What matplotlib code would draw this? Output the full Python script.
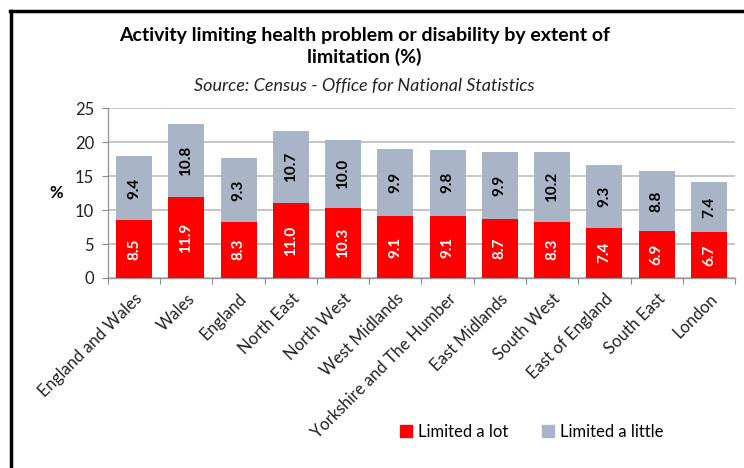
import numpy as np
import matplotlib
matplotlib.use("Agg")
import matplotlib.pyplot as plt
from matplotlib.lines import Line2D
from matplotlib.patches import Patch

REGIONS = ["England and Wales", "Wales", "England", "North East", "North West",
           "West Midlands", "Yorkshire and The Humber", "East Midlands",
           "South West", "East of England", "South East", "London"]
LIMITED_LOT = [8.5, 11.9, 8.3, 11.0, 10.3, 9.1, 9.1, 8.7, 8.3, 7.4, 6.9, 6.7]
LIMITED_LITTLE = [9.4, 10.8, 9.3, 10.7, 10.0, 9.9, 9.8, 9.9, 10.2, 9.3, 8.8, 7.4]
Y_TICKS = [0, 5, 10, 15, 20, 25]

RED = "#FF0000"
GREY = "#A9B4C6"
FONT = "Lato"

plt.rcParams["font.family"] = [FONT, "DejaVu Sans"]

fig = plt.figure(figsize=(7.44, 4.68), dpi=100)
ax = fig.add_axes([0.145, 0.406, 0.843, 0.363])

x = np.arange(len(REGIONS))
lot = np.array(LIMITED_LOT)
little = np.array(LIMITED_LITTLE)
w = 0.69
ax.bar(x, lot, w, color=RED, zorder=3)
ax.bar(x, little, w, bottom=lot, color=GREY, zorder=3)

for i in range(len(x)):
    ax.text(x[i], lot[i] / 2, f"{lot[i]:.1f}", rotation=90, ha="center",
            va="center", color="white", fontsize=11, fontweight="bold", zorder=4)
    ax.text(x[i], lot[i] + little[i] / 2, f"{little[i]:.1f}", rotation=90,
            ha="center", va="center", color="black", fontsize=11,
            fontweight="bold", zorder=4)

ax.set_xlim(-0.5, len(x) - 0.5)
ax.set_ylim(0, 25)
ax.set_yticks(Y_TICKS)
ax.tick_params(axis="y", labelsize=12, length=4, color="#888888", pad=6,
               labelcolor="#222222")
ax.yaxis.grid(True, color="#BBBBBB", linewidth=1.2, zorder=0)
ax.set_axisbelow(True)

# category ticks sit between bars, labels under each bar
ax.set_xticks(np.arange(len(x) + 1) - 0.5)
ax.set_xticklabels([])
ax.tick_params(axis="x", length=4, color="#888888")
ax.set_xticks(x, minor=True)
ax.set_xticklabels(REGIONS, minor=True, rotation=45, ha="right",
                   rotation_mode="anchor", fontsize=12, color="#222222")
ax.tick_params(axis="x", which="minor", length=0, pad=9)

for s in ["top", "right"]:
    ax.spines[s].set_visible(False)
for s in ["left", "bottom"]:
    ax.spines[s].set_color("#999999")
    ax.spines[s].set_linewidth(1)

fig.text(0.075, 0.588, "%", fontsize=12, fontweight="bold", ha="center", va="center")

fig.text(0.49, 0.925, "Activity limiting health problem or disability by extent of",
         ha="center", va="center", fontsize=14, fontweight="bold")
fig.text(0.49, 0.878, "limitation (%)", ha="center", va="center",
         fontsize=14, fontweight="bold")
fig.text(0.49, 0.817, "Source: Census - Office for National Statistics",
         ha="center", va="center", fontsize=13, style="italic", color="#222222")

handles = [Patch(color=RED, label="Limited a lot"),
           Patch(color=GREY, label="Limited a little")]
fig.legend(handles=handles, loc="center", bbox_to_anchor=(0.715, 0.077), ncol=2,
           frameon=False, fontsize=12, handlelength=0.7, handleheight=0.7,
           handletextpad=0.4, columnspacing=2.0)

# outer frame, left and top edges only
fig.add_artist(Line2D([0.015, 0.015], [0, 0.977], color="black", linewidth=2.5))
fig.add_artist(Line2D([0.014, 1.0], [0.977, 0.977], color="black", linewidth=2.5))

fig.savefig("out.png", dpi=100, facecolor="white")
